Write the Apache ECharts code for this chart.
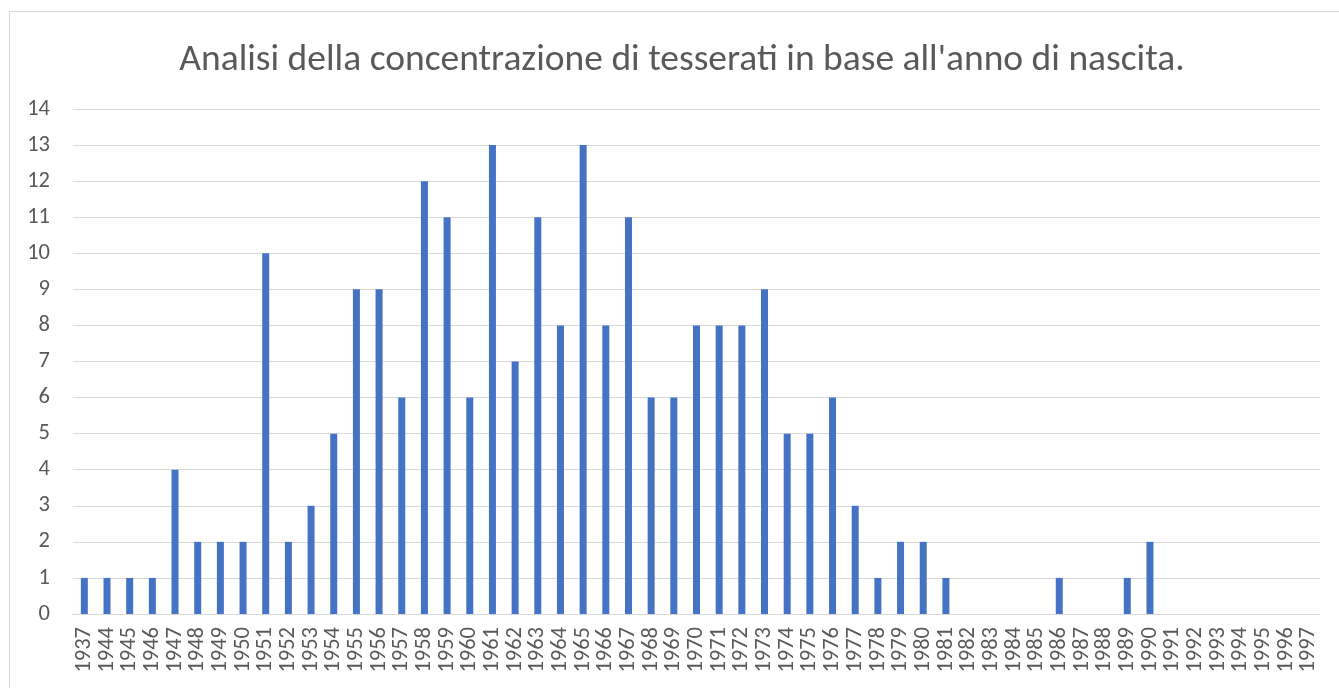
<!DOCTYPE html>
<html>
<head>
<meta charset="utf-8">
<script src="https://cdn.jsdelivr.net/npm/echarts@6/dist/echarts.min.js"></script>
<style>
  html, body { margin: 0; padding: 0; background: #fff; }
  #frame {
    position: absolute; left: 9px; top: 11px; width: 1360px; height: 700px;
    border: 1px solid #d9d9d9; box-sizing: border-box;
  }
  #chart { position: absolute; left: 0; top: 0; width: 1339px; height: 688px; }
</style>
</head>
<body>
<div id="frame"></div>
<div id="chart"></div>
<script>
// anni di nascita (asse categorie)
const anni = ['1937', '1944', '1945', '1946', '1947', '1948', '1949', '1950', '1951', '1952',
  '1953', '1954', '1955', '1956', '1957', '1958', '1959', '1960', '1961', '1962',
  '1963', '1964', '1965', '1966', '1967', '1968', '1969', '1970', '1971', '1972',
  '1973', '1974', '1975', '1976', '1977', '1978', '1979', '1980', '1981', '1982',
  '1983', '1984', '1985', '1986', '1987', '1988', '1989', '1990', '1991', '1992',
  '1993', '1994', '1995', '1996', '1997']

// numero di tesserati per anno
const tesserati = [1, 1, 1, 1, 4, 2, 2, 2, 10, 2,
  3, 5, 9, 9, 6, 12, 11, 6, 13, 7,
  11, 8, 13, 8, 11, 6, 6, 8, 8, 8,
  9, 5, 5, 6, 3, 1, 2, 2, 1, 0,
  0, 0, 0, 1, 0, 0, 1, 2, 0, 0,
  0, 0, 0, 0, 0]

const titolo = "Analisi della concentrazione di tesserati in base all'anno di nascita."

const chart = echarts.init(document.getElementById('chart'))
const font = "Calibri, Carlito, 'Open Sans', 'Noto Sans', sans-serif"

chart.setOption({
  animation: false,
  title: {
    text: titolo,
    left: 677,
    textAlign: 'center',
    top: 37,
    textStyle: { fontFamily: font, fontSize: 37.5, fontWeight: 'normal', color: '#595959' }
  },
  grid: { left: 73, top: 109, width: 1247, height: 505, containLabel: false },
  xAxis: {
    type: 'category',
    data: anni,
    axisLine: { lineStyle: { color: '#d9d9d9', width: 1 } },
    axisTick: { show: false },
    axisLabel: {
      rotate: 90,
      interval: 0,
      margin: 13,
      fontSize: 22.5,
      fontFamily: font,
      color: '#595959'
    }
  },
  yAxis: {
    type: 'value',
    min: 0,
    max: 14,
    interval: 1,
    axisLine: { show: false },
    axisTick: { show: false },
    splitLine: { lineStyle: { color: '#d9d9d9', width: 1 } },
    axisLabel: { margin: 23, fontSize: 22.5, fontFamily: font, color: '#595959' }
  },
  series: [{
    type: 'bar',
    data: tesserati,
    barWidth: 7,
    itemStyle: { color: '#4472c4' }
  }]
})
</script>
</body>
</html>
